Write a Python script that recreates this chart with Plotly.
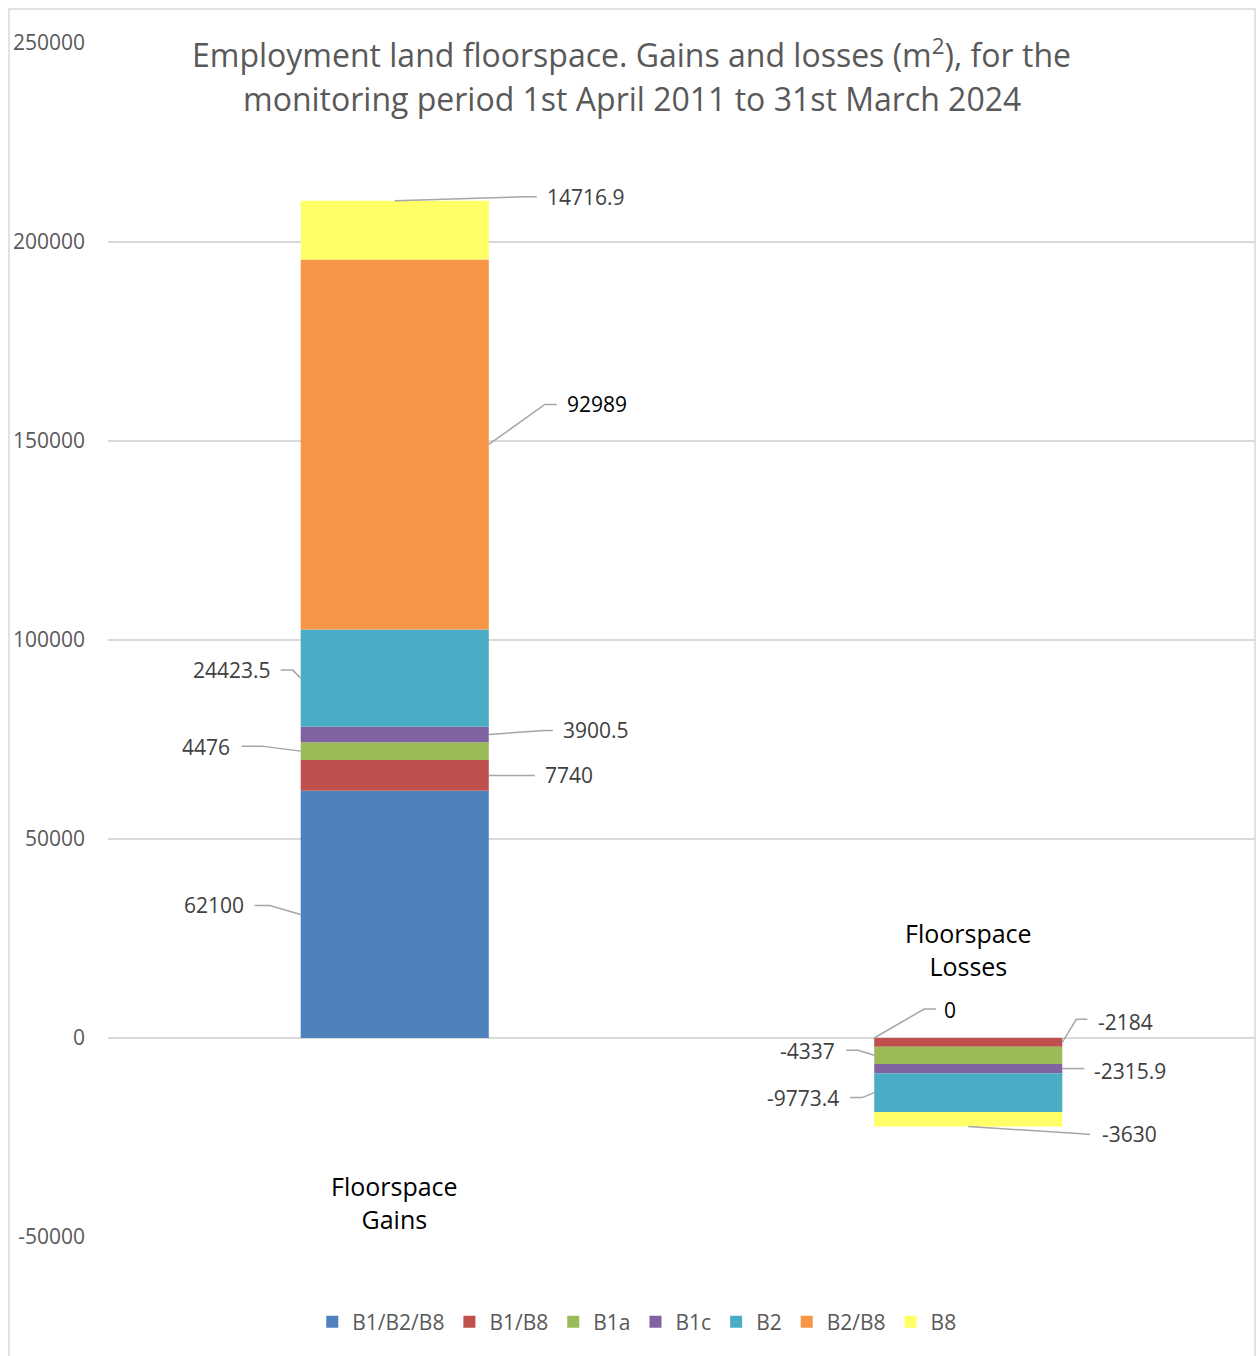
import plotly.graph_objects as go

# ---------------- data ----------------
categories = ["Floorspace Gains", "Floorspace Losses"]
series_names = ["B1/B2/B8", "B1/B8", "B1a", "B1c", "B2", "B2/B8", "B8"]
gains = [62100, 7740, 4476, 3900.5, 24423.5, 92989, 14716.9]
losses = [0, -2184, -4337, -2315.9, -9773.4, None, -3630]
y_ticks = [-50000, 0, 50000, 100000, 150000, 200000, 250000]
y_tick_labels = ["-50000", "0", "50000", "100000", "150000", "200000", "250000"]

# ---------------- styles ----------------
colors = ["#4F81BD", "#C0504D", "#9BBB59", "#8064A2", "#4BACC6", "#F79646", "#FFFF66"]
FONT = "Open Sans"
BAR_W = 0.328
GRID = "#D9D9D9"
LEADER = "#A6A6A6"

# label placement: (category index, series index) -> anchor side, leader path (px), text shift (px), align, colour
label_cfg = {
    (0, 0): ("left", [(-31, 9), (-46, 9)], (-55, 9), "right", "#404040"),
    (0, 1): ("right", [(46, 0)], (54, 0), "left", "#404040"),
    (0, 2): ("left", [(-39, 5), (-59, 5)], (-69, 4), "right", "#404040"),
    (0, 3): ("right", [(56, 4), (64, 4)], (72, 4), "left", "#404040"),
    (0, 4): ("left", [(-8, 8), (-20, 8)], (-28, 8), "right", "#404040"),
    (0, 5): ("right", [(56, 40), (68, 40)], (76, 40), "left", "#000000"),
    (0, 6): ("end", [(130, 4), (142, 4)], (150, 4), "left", "#404040"),
    (1, 0): ("left", [(50, 29), (62, 29)], (68, 28), "left", "#000000"),
    (1, 1): ("right", [(14, 23), (25, 23)], (34, 20), "left", "#404040"),
    (1, 2): ("left", [(-16, 5), (-28, 5)], (-37, 4), "right", "#404040"),
    (1, 3): ("right", [(22, 0)], (30, -2), "left", "#404040"),
    (1, 4): ("left", [(-12, -5), (-24, -5)], (-33, -5), "right", "#404040"),
    (1, 6): ("end", [(110, -7), (122, -8)], (132, -7), "left", "#404040"),
}

fig = go.Figure()
for i, name in enumerate(series_names):
    fig.add_trace(go.Bar(
        name=name,
        x=categories,
        y=[gains[i], losses[i]],
        width=BAR_W,
        marker=dict(color=colors[i], line=dict(width=0)),
        hoverinfo="name+y",
    ))

# compute stacked positions from the data
shapes = []
annotations = []
for ci, vals in enumerate([gains, losses]):
    pos_base, neg_base = 0.0, 0.0
    mids = {}
    for si, v in enumerate(vals):
        if v is None:
            continue
        if v >= 0:
            mids[si] = pos_base + v / 2
            pos_base += v
        else:
            mids[si] = neg_base + v / 2
            neg_base += v
    total = pos_base if ci == 0 else neg_base
    for si, v in enumerate(vals):
        key = (ci, si)
        if key not in label_cfg or v is None:
            continue
        side, path_pts, (tx, ty), align, tcol = label_cfg[key]
        if side == "left":
            ax_x, ax_y = ci - BAR_W / 2, mids[si]
        elif side == "right":
            ax_x, ax_y = ci + BAR_W / 2, mids[si]
        else:
            ax_x, ax_y = ci, total
        path = "M0,0 " + " ".join("L%d,%d" % (px, py) for px, py in path_pts)
        shapes.append(dict(
            type="path", xref="x", yref="y",
            xsizemode="pixel", ysizemode="pixel",
            xanchor=ax_x, yanchor=ax_y, path=path,
            line=dict(color=LEADER, width=1.5),
            layer="above",
        ))
        annotations.append(dict(
            x=ax_x, y=ax_y, xref="x", yref="y",
            text="{:g}".format(v), showarrow=False,
            xshift=tx, yshift=ty, xanchor=align, yanchor="middle",
            font=dict(family=FONT, size=21, color=tcol),
        ))

# category labels (Excel places them off the axis line)
cat_label_y = [0.0293, 0.2404]
for ci, cat in enumerate(categories):
    annotations.append(dict(
        x=ci, y=cat_label_y[ci], xref="x", yref="paper",
        text=cat.replace(" ", "<br>"), showarrow=False,
        xanchor="center", yanchor="middle",
        font=dict(family=FONT, size=25, color="#000000"),
    ))

# title (two lines)
title_lines = ["Employment land floorspace. Gains and losses (m<sup>2</sup>), for the",
               "monitoring period 1st April 2011 to 31st March 2024"]
title_y = [0.9916, 0.9531]
for t, ty in zip(title_lines, title_y):
    annotations.append(dict(
        x=0.4568, y=ty, xref="paper", yref="paper",
        text=t, showarrow=False, xanchor="center", yanchor="middle",
        font=dict(family=FONT, size=32, color="#595959"),
    ))

# chart border
shapes.append(dict(
    type="rect", xref="paper", yref="paper",
    x0=-0.0863, x1=1.0, y0=-0.3, y1=1.0285,
    line=dict(color=GRID, width=1.5), layer="below",
))

fig.update_layout(
    width=1257, height=1356,
    margin=dict(l=108, r=2, t=43, b=119),
    barmode="relative",
    paper_bgcolor="white", plot_bgcolor="white",
    font=dict(family=FONT, color="#595959"),
    showlegend=True,
    legend=dict(
        orientation="h", x=0.461, xanchor="center", y=-0.0712, yanchor="middle",
        traceorder="normal", font=dict(family=FONT, size=21, color="#595959"),
    ),
    xaxis=dict(showticklabels=False, showgrid=False, zeroline=False, showline=False,
               range=[-0.5, 1.5]),
    yaxis=dict(range=[-50000, 250000], tickvals=y_ticks, ticktext=y_tick_labels,
               showgrid=True, gridcolor=GRID, gridwidth=1.5, zeroline=False,
               showline=False, ticks="", ticklabelstandoff=22,
               tickfont=dict(family=FONT, size=21, color="#595959")),
    shapes=shapes,
    annotations=annotations,
)

fig.write_html("out.html")
